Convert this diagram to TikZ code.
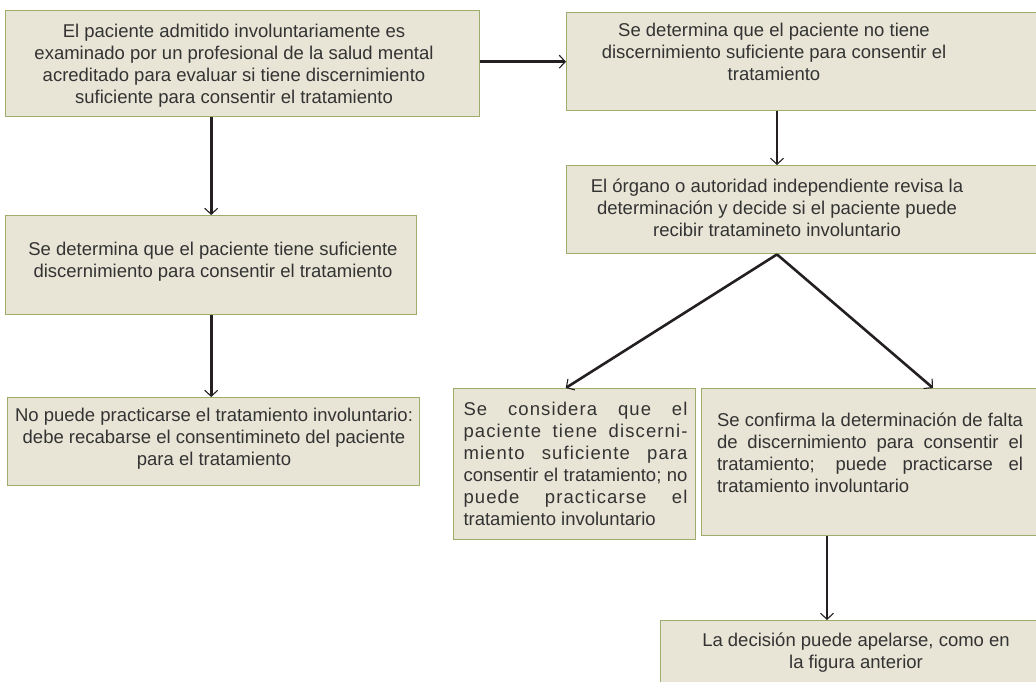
\documentclass[tikz,border=0pt]{standalone}
\usepackage{fontspec}
\setmainfont{Liberation Sans}
\usetikzlibrary{arrows.meta}
\usetikzlibrary{calc}
\newcommand{\spread}[1]{{\addfontfeature{LetterSpace=6}#1}}

\begin{document}
\begin{tikzpicture}[x=1pt,y=-1pt,
  box/.style={draw=mycolor9FAE6A,fill=mycolorE8E7D5,line width=1.4pt,inner sep=0,anchor=north west},
  txt/.style={text=mycolor333333,inner sep=0,anchor=north,align=center,
    font=\fontsize{18.5}{22}\selectfont,execute at begin node=\strut},
  arr/.style={draw=mycolor231F20,line width=2.6pt,
    -{Straight Barb[length=6pt,width=13pt,line width=1.1pt]}}]
\definecolor{mycolor9FAE6A}{rgb}{0.62,0.68,0.42}
\definecolor{mycolorE8E7D5}{rgb}{0.91,0.9,0.84}
\definecolor{mycolor333333}{rgb}{0.2,0.2,0.2}
\definecolor{mycolor231F20}{rgb}{0.14,0.12,0.13}
\useasboundingbox (0,0) rectangle (1036,681);
\clip (0,0) rectangle (1036,681);
\begin{scope}
% boxes
\node[box,minimum width=474pt,minimum height=106pt] (A) at (5,10) {};
\node[box,minimum width=500pt,minimum height=98pt] (B) at (566,12) {};
\node[box,minimum width=500pt,minimum height=88pt] (C) at (566,165) {};
\node[box,minimum width=411pt,minimum height=99pt] (D) at (5,215) {};
\node[box,minimum width=412pt,minimum height=88pt] (E) at (7,397) {};
\node[box,minimum width=242pt,minimum height=151pt] (F) at (453,388) {};
\node[box,minimum width=400pt,minimum height=147pt] (G) at (701,388) {};
\node[box,minimum width=450pt,minimum height=100pt] (H) at (660,620) {};
\end{scope}
\begin{scope}
% texts
\node[txt] (At) at (234,23.6) {El paciente admitido involuntariamente es\\examinado por un profesional de la salud mental\\acreditado para evaluar si tiene discernimiento\\suficiente para consentir el tratamiento};
\node[txt] (Bt) at (774,23.1) {Se determina que el paciente no tiene\\discernimiento suficiente para consentir el\\tratamiento};
\node[txt] (Ct) at (777,178.6) {El órgano o autoridad independiente revisa la\\determinación y decide si el paciente puede\\recibir tratamineto involuntario};
\node[txt] (Dt) at (213,241.6) {Se determina que el paciente tiene suficiente\\discernimiento para consentir el tratamiento};
\node[txt] (Et) at (214,408) {No puede practicarse el tratamiento involuntario:\\debe recabarse el consentimineto del paciente\\para el tratamiento};
\node[txt,text width=224pt,align=justify] (Ft) at (575.5,399.6) {\spread{Se considera que el}\linebreak \spread{paciente tiene discerni-}\linebreak \spread{miento suficiente para}\linebreak consentir el tratamiento; no\linebreak \spread{puede practicarse el}\linebreak tratamiento involuntario};
\node[txt,text width=306pt,align=justify] (Gt) at (870,410.6) {Se confirma la determinación de falta\linebreak de discernimiento para consentir el\linebreak tratamiento; puede practicarse el\linebreak tratamiento involuntario};
\node[txt] (Ht) at (856,633) {La decisión puede apelarse, como en\\la figura anterior};
\end{scope}
\begin{scope}
% connectors
\coordinate (cfork) at (Ct |- C.south);
\coordinate (gh) at ($(G.south west)+(126,0)$);
\draw[arr] (A.east |- B.west) -- (B.west);
\draw[arr] (D.north |- A.south) -- (D.north);
\draw[arr] (D.south) -- (D.south |- E.north);
\draw[arr] (Ct |- B.south) -- (Ct |- C.north);
\draw[arr] (cfork) -- ([xshift=-9pt]F.north);
\draw[arr] (cfork) -- ([xshift=232pt]G.north west);
\draw[arr] (gh) -- (gh |- H.north);
\end{scope}
\end{tikzpicture}
\end{document}
